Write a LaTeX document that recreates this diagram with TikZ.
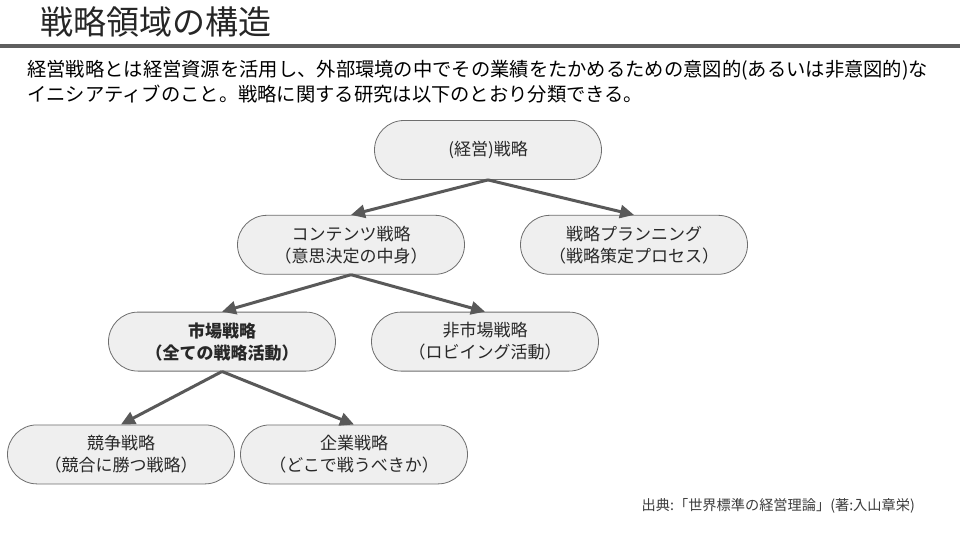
\documentclass[tikz,border=0pt]{standalone}
\usepackage{fontspec}
\setmainfont{Noto Sans CJK JP}
\usepackage{tikz}
\usetikzlibrary{arrows.meta, positioning, shapes.misc}
\definecolor{boxfill}{RGB}{239,239,239}
\definecolor{boxline}{RGB}{110,110,110}
\definecolor{arrowcolor}{RGB}{89,89,89}
\definecolor{barcolor}{RGB}{95,95,95}
\definecolor{textcolor}{RGB}{40,40,40}
\newcommand{\jsize}[2]{\fontsize{#1}{#2}\selectfont}
\tikzset{
  strategy/.style={rounded rectangle, draw=boxline, fill=boxfill, line width=0.8pt,
                   minimum width=231pt, minimum height=59pt, align=center,
                   font=\jsize{17pt}{22pt}, text=textcolor, inner sep=2pt},
  arrow/.style={-{Triangle[length=14pt, width=13pt]}, line width=3pt, draw=arrowcolor},
  titletext/.style={anchor=west, font=\jsize{33pt}{36pt}, text=black!85},
  leadtext/.style={anchor=north west, align=left, font=\jsize{19.3pt}{25pt}, inner sep=0pt},
  sourcetext/.style={anchor=east, font=\jsize{14.2pt}{16pt}, text=textcolor!90, inner sep=0pt},
}

\begin{document}
\begin{tikzpicture}[x=1pt, y=-1pt]
  \useasboundingbox[fill=white] (0,0) rectangle (960,540);

  % --- Header ---
  \node[titletext] (title) at (37,22) {戦略領域の構造};
  \draw[barcolor, line width=4pt] (0,46) -- (960,46);
  \node[leadtext] (lead) at (27,60)
    {経営戦略とは経営資源を活用し、外部環境の中でその業績をたかめるための意図的(あるいは非意図的)な\\
     イニシアティブのこと。戦略に関する研究は以下のとおり分類できる。};

  % --- Strategy tree ---
  \node[strategy] at (488,150) (top) {(経営)戦略};

  \node[strategy, below=35pt of top, xshift=-137pt]
    (content) {コンテンツ戦略\\（意思決定の中身）};
  \node[strategy, below=35pt of top, xshift=146pt]
    (plan) {戦略プランニング\\（戦略策定プロセス）};

  \node[strategy, below=37pt of content, xshift=-129pt, font=\jsize{17pt}{22pt}\bfseries]
    (market) {市場戦略\\（全ての戦略活動）};
  \node[strategy, below=37pt of content, xshift=134pt]
    (nonmarket) {非市場戦略\\（ロビイング活動）};

  \node[strategy, below=53pt of market, xshift=-101pt]
    (compete) {競争戦略\\（競合に勝つ戦略）};
  \node[strategy, below=53pt of market, xshift=132pt]
    (corporate) {企業戦略\\（どこで戦うべきか）};

  % --- Links ---
  \draw[arrow] (top.south) -- (content.north);
  \draw[arrow] (top.south) -- (plan.north);
  \draw[arrow] (content.south) -- (market.north);
  \draw[arrow] (content.south) -- (nonmarket.north);
  \draw[arrow] (market.south) -- (compete.north);
  \draw[arrow] (market.south) -- (corporate.north);

  % --- Source ---
  \node[sourcetext] (source) at (915,506) {出典:「世界標準の経営理論」(著:入山章栄)};
\end{tikzpicture}
\end{document}
